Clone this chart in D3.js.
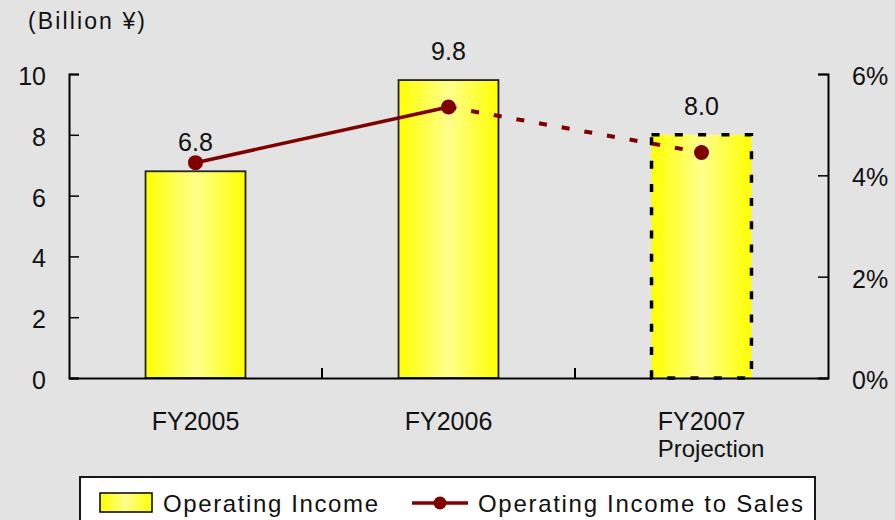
<!DOCTYPE html>
<html>
<head>
<meta charset="utf-8">
<script src="https://cdn.jsdelivr.net/npm/d3@7"></script>
<style>
  body { margin: 0; background: #e3e3e3; }
  svg { display: block; font-family: "Liberation Sans", Arial, sans-serif; }
</style>
</head>
<body>
<svg id="canvas" width="895" height="520"></svg>
<script>
"use strict"

// chart data
const categories = ["FY2005", "FY2006", "FY2007"];
const subLabels = ["", "", "Projection"];
const incomeValues = [6.8, 9.8, 8.0];
const ratioValues = [4.25, 5.35, 4.45];
const projected = [false, false, true];
const leftTicks = [0, 2, 4, 6, 8, 10];
const rightTicks = [0, 2, 4, 6];

const svg = d3.select("#canvas");

svg.append("rect")
    .attr("width", 895).attr("height", 520)
    .attr("fill", "#e3e3e3");

// horizontal yellow gradient used by bars and legend swatch
const grad = svg.append("defs").append("linearGradient")
    .attr("id", "barGrad")
    .attr("x1", "0%").attr("x2", "100%").attr("y1", "0%").attr("y2", "0%");
grad.append("stop").attr("offset", "0%").attr("stop-color", "#ffff00");
grad.append("stop").attr("offset", "50%").attr("stop-color", "#ffff8c");
grad.append("stop").attr("offset", "100%").attr("stop-color", "#ffff00");

const plotLeft = 69, plotRight = 828, plotTop = 74, plotBottom = 378;

let x = d3.scaleBand()
    .domain(categories)
    .range([plotLeft, plotRight])
    .paddingInner(0.605)
    .paddingOuter(0.3025);

let y = d3.scaleLinear().domain([0, 10]).range([plotBottom, plotTop]);
let y2 = d3.scaleLinear().domain([0, 6]).range([plotBottom, plotTop]);

/* bars */
svg.selectAll(".bar")
    .data(categories)
    .enter().append("rect")
    .attr("class", "bar")
    .attr("x", d => x(d))
    .attr("y", (d, i) => y(incomeValues[i]))
    .attr("width", x.bandwidth())
    .attr("height", (d, i) => y(0) - y(incomeValues[i]))
    .attr("fill", "url(#barGrad)")
    .attr("stroke", (d, i) => projected[i] ? "#000" : "#222")
    .attr("stroke-width", (d, i) => projected[i] ? 3.5 : 1.8)
    .attr("stroke-dasharray", (d, i) => projected[i] ? "8,15.3" : null);

/* value labels above bars */
svg.selectAll(".vlabel")
    .data(categories)
    .enter().append("text")
    .attr("x", d => x(d) + x.bandwidth() / 2)
    .attr("y", (d, i) => y(incomeValues[i]) - 20)
    .attr("text-anchor", "middle")
    .attr("font-size", 25)
    .attr("fill", "#111")
    .text((d, i) => incomeValues[i].toFixed(1));

/* left axis */
let leftAxis = svg.append("g")
    .attr("transform", "translate(" + plotLeft + ",0)")
    .call(d3.axisLeft(y).tickValues(leftTicks).tickSize(-10).tickPadding(23));

/* right axis */
let rightAxis = svg.append("g")
    .attr("transform", "translate(" + plotRight + ",0)")
    .call(d3.axisRight(y2).tickValues(rightTicks).tickSize(-10).tickPadding(24)
        .tickFormat(d => d + "%"));

[leftAxis, rightAxis].forEach(g => {
    g.select(".domain").attr("stroke", "#000").attr("stroke-width", 2);
    g.selectAll(".tick line").attr("stroke", "#000").attr("stroke-width", 1.5);
    g.selectAll(".tick text")
        .attr("font-size", 25)
        .attr("font-family", "Liberation Sans, Arial, sans-serif")
        .attr("dy", "0.42em")
        .attr("fill", "#111");
});

/* bottom axis */
let bottomAxis = svg.append("g")
    .attr("transform", "translate(0," + plotBottom + ")")
    .call(d3.axisBottom(x).tickSize(0).tickPadding(34));
bottomAxis.select(".domain").attr("stroke", "#000").attr("stroke-width", 2);
bottomAxis.selectAll(".tick text")
    .attr("font-size", 25)
    .attr("font-family", "Liberation Sans, Arial, sans-serif")
    .attr("fill", "#111")
    .attr("dy", "0.71em");

// second line under FY2007, left-aligned with the category name
bottomAxis.selectAll(".tick").each(function (d, i) {
    if (subLabels[i]) {
        let w = d3.select(this).select("text").node().getComputedTextLength();
        d3.select(this).append("text")
            .attr("x", -w / 2)
            .attr("y", 79)
            .attr("text-anchor", "start")
            .attr("font-size", 24)
            .attr("font-family", "Liberation Sans, Arial, sans-serif")
            .attr("fill", "#111")
            .text(subLabels[i]);
    }
});

// category divider ticks
const step = x.step();
svg.selectAll(".divider")
    .data(categories.slice(0, -1))
    .enter().append("line")
    .attr("x1", d => x(d) + x.bandwidth() + (step - x.bandwidth()) / 2)
    .attr("x2", d => x(d) + x.bandwidth() + (step - x.bandwidth()) / 2)
    .attr("y1", plotBottom)
    .attr("y2", plotBottom - 10)
    .attr("stroke", "#000")
    .attr("stroke-width", 2);

/* ratio line: solid for actuals, dashed to projection */
const pts = categories.map((c, i) => [x(c) + x.bandwidth() / 2, y2(ratioValues[i])]);
const line = d3.line();

svg.append("path")
    .attr("d", line(pts.filter((p, i) => !projected[i])))
    .attr("fill", "none")
    .attr("stroke", "#800000")
    .attr("stroke-width", 3.5);

const lastActual = projected.indexOf(true) - 1;
svg.append("path")
    .attr("d", line(pts.slice(lastActual)))
    .attr("fill", "none")
    .attr("stroke", "#800000")
    .attr("stroke-width", 4)
    .attr("stroke-dasharray", "8,15");

svg.selectAll(".dot")
    .data(pts)
    .enter().append("circle")
    .attr("cx", d => d[0])
    .attr("cy", d => d[1])
    .attr("r", 7.5)
    .attr("fill", "#800000");

/* unit label */
svg.append("text")
    .attr("x", 28)
    .attr("y", 29)
    .attr("font-size", 23)
    .attr("fill", "#111")
    .attr("textLength", 117)
    .text("(Billion ¥)");

/* legend */
let legend = svg.append("g");
legend.append("rect")
    .attr("x", 80).attr("y", 477)
    .attr("width", 735).attr("height", 60)
    .attr("fill", "#fff")
    .attr("stroke", "#000")
    .attr("stroke-width", 1.8);

legend.append("rect")
    .attr("x", 100).attr("y", 493)
    .attr("width", 52).attr("height", 19)
    .attr("fill", "url(#barGrad)")
    .attr("stroke", "#000")
    .attr("stroke-width", 1.5);

legend.append("text")
    .attr("x", 163).attr("y", 512)
    .attr("font-size", 24)
    .attr("fill", "#111")
    .attr("textLength", 215)
    .text("Operating Income");

legend.append("line")
    .attr("x1", 412).attr("x2", 468)
    .attr("y1", 503).attr("y2", 503)
    .attr("stroke", "#800000")
    .attr("stroke-width", 3.5);
legend.append("circle")
    .attr("cx", 440).attr("cy", 503).attr("r", 6.5)
    .attr("fill", "#800000");

legend.append("text")
    .attr("x", 478).attr("y", 512)
    .attr("font-size", 24)
    .attr("fill", "#111")
    .attr("textLength", 325)
    .text("Operating Income to Sales");
</script>
</body>
</html>
